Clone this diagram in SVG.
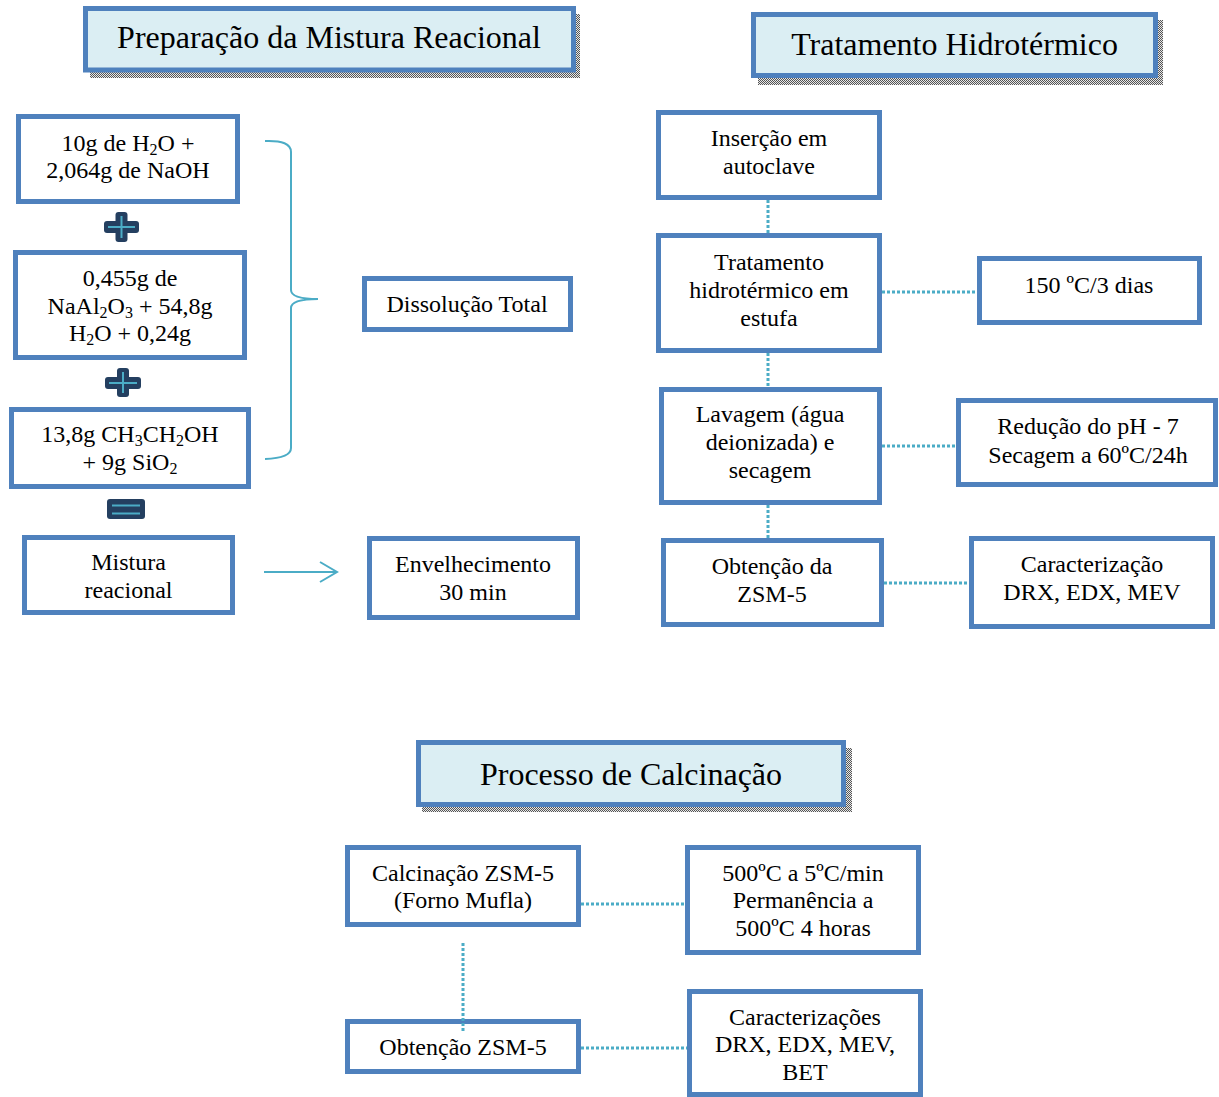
<svg xmlns="http://www.w3.org/2000/svg" width="1219" height="1097" viewBox="0 0 1219 1097">
<defs>
<pattern id="chk" width="2" height="2" patternUnits="userSpaceOnUse">
<rect width="2" height="2" fill="#e8e8e8"/>
<rect width="1" height="1" fill="#555"/>
<rect x="1" y="1" width="1" height="1" fill="#555"/>
</pattern>
</defs>
<style>
.box{fill:#fff;stroke:#4f81bd;stroke-width:5}
.title{fill:#dbeef3;stroke:#4f81bd;stroke-width:5}
.shadow{fill:url(#chk)}
text{font-family:"Liberation Serif","Times New Roman",serif;fill:#000;text-anchor:middle}
.t{font-size:24px}
.h{font-size:32px}
.dot{stroke:#4bacc6;stroke-width:3;stroke-dasharray:3 2;fill:none}
.cy{stroke:#4bacc6;fill:none}
.op{fill:#243f60}
.sub{font-size:16px}
</style>
<rect width="1219" height="1097" fill="#fff"/>

<g id="connectors">
<line class="dot" x1="768" y1="200" x2="768" y2="235"/>
<line class="dot" x1="768" y1="353" x2="768" y2="387"/>
<line class="dot" x1="768" y1="505" x2="768" y2="538"/>
<line class="dot" x1="882" y1="292" x2="977" y2="292"/>
<line class="dot" x1="882" y1="446" x2="956" y2="446"/>
<line class="dot" x1="884" y1="583" x2="969" y2="583"/>
<line class="dot" x1="581" y1="904" x2="685" y2="904"/>
<line class="dot" x1="581" y1="1048" x2="687" y2="1048"/>
<path class="cy" stroke-width="2" d="M265,141 Q291,140 291,152 L291,290 Q291,299 318,299 Q291,299 291,308 L291,448 Q291,458 265,459"/>
<line class="cy" stroke-width="2" x1="264" y1="572" x2="336" y2="572"/>
<polyline class="cy" stroke-width="2" points="320,562 337,572 320,582"/>
</g>

<g id="title1">
<rect class="shadow" x="90" y="14" width="490" height="64"/>
<rect class="title" x="85.5" y="8.5" width="488" height="61.5"/>
<text class="h" x="329" y="48">Preparação da Mistura Reacional</text>
</g>
<g id="title2">
<rect class="shadow" x="758" y="20" width="405" height="65"/>
<rect class="title" x="753.5" y="14.5" width="402" height="61"/>
<text class="h" x="954.5" y="55">Tratamento Hidrotérmico</text>
</g>
<g id="title3">
<rect class="shadow" x="422" y="748" width="430" height="64"/>
<rect class="title" x="418.5" y="742.5" width="425" height="62"/>
<text class="h" x="631" y="785">Processo de Calcinação</text>
</g>

<g id="b1">
<rect class="box" x="18.5" y="116.5" width="219" height="85"/>
<text class="t" x="128" y="151">10g de H<tspan class="sub" dy="4">2</tspan><tspan dy="-4">O +</tspan></text>
<text class="t" x="128" y="178">2,064g de NaOH</text>
</g>
<g id="plus1">
<rect class="op" x="104" y="221" width="35" height="12" rx="3"/>
<rect class="op" x="115.5" y="212" width="12" height="30" rx="3"/>
<path class="cy" stroke-width="2" d="M108,227 H135 M121.5,216 V238"/>
</g>
<g id="b2">
<rect class="box" x="15.5" y="252.5" width="229" height="105"/>
<text class="t" x="130" y="286">0,455g de</text>
<text class="t" x="130" y="314">NaAl<tspan class="sub" dy="4">2</tspan><tspan dy="-4">O</tspan><tspan class="sub" dy="4">3</tspan><tspan dy="-4"> + 54,8g</tspan></text>
<text class="t" x="130" y="341">H<tspan class="sub" dy="4">2</tspan><tspan dy="-4">O + 0,24g</tspan></text>
</g>
<g id="plus2">
<rect class="op" x="105" y="377" width="36" height="12" rx="3"/>
<rect class="op" x="117" y="368" width="12" height="29" rx="3"/>
<path class="cy" stroke-width="2" d="M109,383 H137 M123,372 V393"/>
</g>
<g id="b3">
<rect class="box" x="11.5" y="409.5" width="237" height="77"/>
<text class="t" x="130" y="442">13,8g CH<tspan class="sub" dy="4">3</tspan><tspan dy="-4">CH</tspan><tspan class="sub" dy="4">2</tspan><tspan dy="-4">OH</tspan></text>
<text class="t" x="130" y="470">+ 9g SiO<tspan class="sub" dy="4">2</tspan></text>
</g>
<g id="equals">
<rect class="op" x="107" y="499" width="38" height="20" rx="3"/>
<path class="cy" stroke-width="2" d="M112,505.5 H140 M112,513.5 H140"/>
</g>
<g id="b4">
<rect class="box" x="24.5" y="537.5" width="208" height="75"/>
<text class="t" x="128.5" y="570">Mistura</text>
<text class="t" x="128.5" y="598">reacional</text>
</g>
<g id="dissolucao">
<rect class="box" x="364.5" y="278.5" width="206" height="51"/>
<text class="t" x="467" y="312">Dissolução Total</text>
</g>
<g id="envelhecimento">
<rect class="box" x="369.5" y="538.5" width="208" height="79"/>
<text class="t" x="473" y="572">Envelhecimento</text>
<text class="t" x="473" y="600">30 min</text>
</g>

<g id="insercao">
<rect class="box" x="658.5" y="112.5" width="221" height="85"/>
<text class="t" x="769" y="146">Inserção em</text>
<text class="t" x="769" y="174">autoclave</text>
</g>
<g id="tratamento">
<rect class="box" x="658.5" y="235.5" width="221" height="115"/>
<text class="t" x="769" y="270">Tratamento</text>
<text class="t" x="769" y="298">hidrotérmico em</text>
<text class="t" x="769" y="326">estufa</text>
</g>
<g id="temp150">
<rect class="box" x="979.5" y="258.5" width="220" height="64"/>
<text class="t" x="1089" y="293">150 ºC/3 dias</text>
</g>
<g id="lavagem">
<rect class="box" x="661.5" y="389.5" width="218" height="113"/>
<text class="t" x="770" y="422">Lavagem (água</text>
<text class="t" x="770" y="450">deionizada) e</text>
<text class="t" x="770" y="478">secagem</text>
</g>
<g id="reducao">
<rect class="box" x="958.5" y="400.5" width="257" height="84"/>
<text class="t" x="1088" y="434">Redução do pH - 7</text>
<text class="t" x="1088" y="463">Secagem a 60ºC/24h</text>
</g>
<g id="obtencao1">
<rect class="box" x="663.5" y="540.5" width="218" height="84"/>
<text class="t" x="772" y="574">Obtenção da</text>
<text class="t" x="772" y="602">ZSM-5</text>
</g>
<g id="caract1">
<rect class="box" x="971.5" y="538.5" width="241" height="88"/>
<text class="t" x="1092" y="572">Caracterização</text>
<text class="t" x="1092" y="600">DRX, EDX, MEV</text>
</g>

<g id="calcinacao">
<rect class="box" x="347.5" y="847.5" width="231" height="77"/>
<text class="t" x="463" y="881">Calcinação ZSM-5</text>
<text class="t" x="463" y="908">(Forno Mufla)</text>
</g>
<g id="temp500">
<rect class="box" x="687.5" y="847.5" width="231" height="105"/>
<text class="t" x="803" y="881">500ºC a 5ºC/min</text>
<text class="t" x="803" y="908">Permanência a</text>
<text class="t" x="803" y="936">500ºC 4 horas</text>
</g>
<g id="obtencao2">
<rect class="box" x="347.5" y="1021.5" width="231" height="50"/>
<text class="t" x="463" y="1055">Obtenção ZSM-5</text>
</g>
<g id="caract2">
<rect class="box" x="689.5" y="991.5" width="231" height="103"/>
<text class="t" x="805" y="1025">Caracterizações</text>
<text class="t" x="805" y="1052">DRX, EDX, MEV,</text>
<text class="t" x="805" y="1080">BET</text>
</g>
<g id="vconn">
<line class="dot" x1="463" y1="943" x2="463" y2="1032"/>
</g>
</svg>
